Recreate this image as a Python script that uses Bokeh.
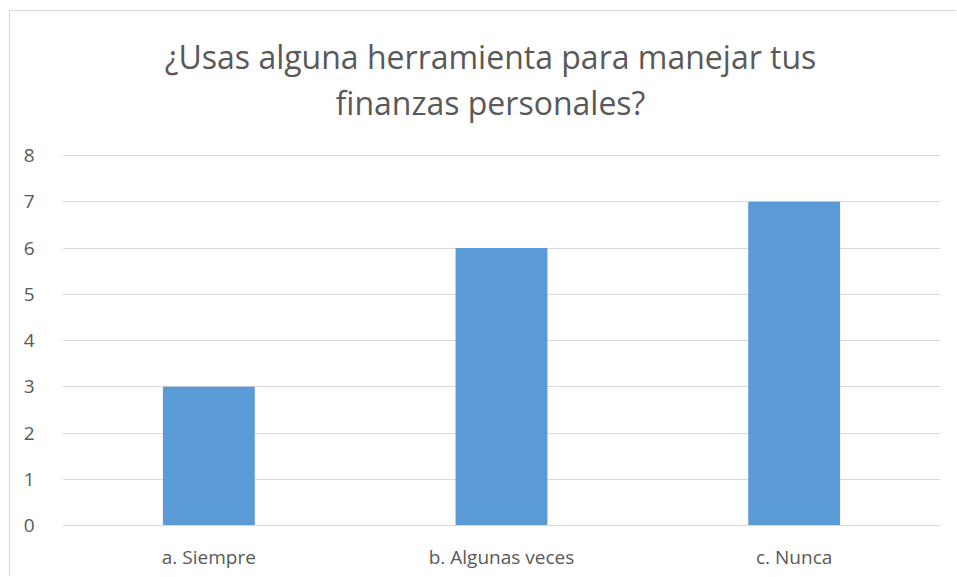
from bokeh.plotting import figure
from bokeh.models import FactorRange, Range1d, Label, FixedTicker, ColumnDataSource
from bokeh.embed import file_html
from bokeh.resources import INLINE

categories = ["a. Siempre", "b. Algunas veces", "c. Nunca"]
values = [3, 6, 7]
y_ticks = [0, 1, 2, 3, 4, 5, 6, 7, 8]
title_lines = ["¿Usas alguna herramienta para manejar tus", "finanzas personales?"]

FONT = "Open Sans"
TXT = "#595959"
GRID = "#d9d9d9"

src = ColumnDataSource(dict(cat=categories, val=values))

# frame spans to the top of the canvas so the title labels sit inside it;
# only ticks 0..8 get gridlines, the space above 8 holds the title
PX_PER_UNIT = 46.25
FRAME_H = 514
p = figure(width=947, height=566, output_backend="svg", toolbar_location=None,
           title=None,
           x_range=FactorRange(factors=categories, range_padding=0),
           y_range=Range1d(0, FRAME_H / PX_PER_UNIT))
p.min_border_left = 52
p.min_border_right = 17
p.min_border_top = 0
p.min_border_bottom = 52
p.background_fill_color = "white"
p.border_fill_color = "white"
p.outline_line_color = None
p.styles = {"margin-left": "9px", "margin-top": "10px",
            "border-left": "1px solid #d9d9d9", "border-top": "1px solid #d9d9d9"}

p.vbar(x="cat", top="val", width=0.314, source=src, fill_color="#5B9BD5", line_color=None)

p.xgrid.grid_line_color = None
p.ygrid.grid_line_color = GRID
p.ygrid.grid_line_width = 1
p.yaxis.ticker = FixedTicker(ticks=y_ticks)

for ax in (p.xaxis[0], p.yaxis[0]):
    ax.axis_line_color = None
    ax.major_tick_line_color = None
    ax.minor_tick_line_color = None
    ax.major_label_text_font = FONT
    ax.major_label_text_color = TXT
    ax.major_label_text_font_size = "19px"
p.xaxis.axis_line_color = GRID
p.yaxis.major_label_standoff = 22
p.xaxis.major_label_standoff = 12

for i, line in enumerate(title_lines):
    p.add_layout(Label(x=428, y=469 - i * 46, x_units="screen", y_units="screen",
                       text=line, text_font=FONT, text_font_size="32px",
                       text_color=TXT, text_align="center", text_baseline="middle"))

open("out.html", "w").write(file_html(p, INLINE))
